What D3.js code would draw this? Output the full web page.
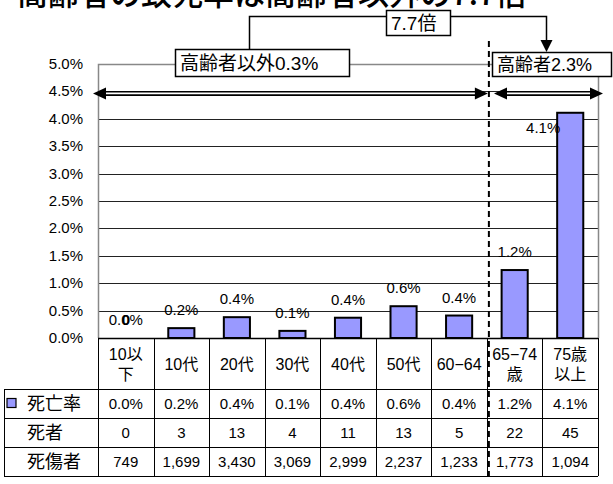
<!DOCTYPE html>
<html>
<head>
<meta charset="utf-8">
<script src="https://cdn.jsdelivr.net/npm/d3@7"></script>
<style>
  body { margin: 0; background: #fff; }
  svg text { font-family: "Liberation Sans", "Noto Sans CJK JP", sans-serif; fill: #000; }
</style>
</head>
<body>
<div id="container"></div>
<script>
/* DATA */
const categories = [["10以", "下"], ["10代"], ["20代"], ["30代"], ["40代"], ["50代"], ["60−64"], ["65−74", "歳"], ["75歳", "以上"]]
const rates = [0.0, 0.18, 0.38, 0.13, 0.37, 0.58, 0.41, 1.24, 4.11]   // %
const deaths = [0, 3, 13, 4, 11, 13, 5, 22, 45]
const casualties = [749, 1699, 3430, 3069, 2999, 2237, 1233, 1773, 1094]
const rowLabels = ["死亡率", "死者", "死傷者"]
const yTicks = [0, 0.5, 1, 1.5, 2, 2.5, 3, 3.5, 4, 4.5, 5]
const title = "高齢者の致死率は高齢者以外の7.7倍"
const groupLabels = ["高齢者以外0.3%", "高齢者2.3%"]
const ratioLabel = "7.7倍"

/* CONSTANTS */
const width = 613, height = 484
const plotLeft = 98, plotRight = 598, plotTop = 64, plotBottom = 338
const rowTops = [389, 418, 447, 476]
const tableLeft = 4

const svg = d3.select("#container").append("svg")
  .attr("width", width)
  .attr("height", height)

const keys = categories.map(d => d.join(""))

const x = d3.scaleBand()
  .domain(keys)
  .range([plotLeft, plotRight])

const y = d3.scaleLinear()
  .domain([0, 5])
  .range([plotBottom, plotTop])

const fmt = d => d3.format(".1f")(d) + "%"

// title (cut off at top)
svg.append("text")
  .text(title)
  .attr("x", 17)
  .attr("y", 5)
  .attr("font-size", 31)
  .attr("font-weight", 500)
  .style("font-family", "'Noto Sans CJK JP', sans-serif")

// gridlines
svg.selectAll(".grid")
  .data(yTicks.filter(d => d > 0 && d < 5))
  .join("line")
  .attr("x1", plotLeft).attr("x2", plotRight)
  .attr("y1", d => Math.round(y(d)) + 0.5)
  .attr("y2", d => Math.round(y(d)) + 0.5)
  .attr("stroke", "#222")

// plot border (gray)
svg.append("path")
  .attr("d", `M${plotLeft + 0.5},${plotBottom} V${plotTop + 0.5} H${plotRight + 0.5} V${plotBottom}`)
  .attr("fill", "none")
  .attr("stroke", "#888")
  .attr("stroke-width", 1.5)

// y labels
svg.selectAll(".ylab")
  .data(yTicks)
  .join("text")
  .attr("x", 83)
  .attr("y", d => y(d) + 5)
  .attr("text-anchor", "end")
  .attr("font-size", 15)
  .text(fmt)

// bars
const bw = x.bandwidth() * 0.47
svg.selectAll(".bar")
  .data(rates)
  .join("rect")
  .attr("class", "bar")
  .attr("x", (d, i) => x(keys[i]) + (x.bandwidth() - bw) / 2)
  .attr("y", d => y(d))
  .attr("width", bw)
  .attr("height", d => y(0) - y(d))
  .attr("fill", "#9999ff")
  .attr("stroke", "#000")
  .attr("stroke-width", 2)

// bar labels (the tallest one is pushed inside, left of its bar)
const inside = d => y(d) - 24 < 100
svg.selectAll(".blab")
  .data(rates)
  .join("text")
  .attr("x", (d, i) => x(keys[i]) + x.bandwidth() / 2 - (inside(d) ? 27 : 0))
  .attr("y", d => inside(d) ? y(d) + 20 : y(d) - 13)
  .attr("text-anchor", "middle")
  .attr("font-size", 15)
  .text(fmt)

// doubled "0" of the first label
svg.append("text")
  .attr("x", x(keys[0]) + x.bandwidth() / 2 - 4)
  .attr("y", y(rates[0]) - 13)
  .attr("font-size", 15)
  .attr("font-weight", "bold")
  .text("0")

// table
const tbl = svg.append("g").attr("stroke", "#000").attr("stroke-width", 1)
tbl.append("line").attr("x1", plotLeft).attr("x2", plotRight).attr("y1", plotBottom + 0.5).attr("y2", plotBottom + 0.5).attr("stroke-width", 1.5)
rowTops.forEach(r => {
  tbl.append("line").attr("x1", tableLeft).attr("x2", plotRight).attr("y1", r + 0.5).attr("y2", r + 0.5)
})
keys.concat(["end"]).forEach((k, i) => {
  const xx = i < keys.length ? x(k) : plotRight
  tbl.append("line").attr("x1", Math.round(xx) + 0.5).attr("x2", Math.round(xx) + 0.5)
    .attr("y1", plotBottom).attr("y2", rowTops[3])
})
tbl.append("line").attr("x1", tableLeft + 0.5).attr("x2", tableLeft + 0.5)
  .attr("y1", rowTops[0]).attr("y2", rowTops[3])

// category labels
categories.forEach((lines, i) => {
  const cx = x(keys[i]) + x.bandwidth() / 2
  const t = svg.append("text").attr("text-anchor", "middle").attr("font-size", 16)
  lines.forEach((ln, j) => {
    const yy = lines.length === 1 ? 370 : 360 + j * 20
    t.append("tspan").attr("x", cx).attr("y", yy).text(ln)
  })
})

// row labels
rowLabels.forEach((lab, r) => {
  svg.append("text")
    .attr("x", 27)
    .attr("y", (rowTops[r] + rowTops[r + 1]) / 2 + 6)
    .attr("font-size", 18)
    .text(lab)
})
svg.append("rect")
  .attr("x", 7).attr("y", (rowTops[0] + rowTops[1]) / 2 - 5)
  .attr("width", 9).attr("height", 9)
  .attr("fill", "#9999ff").attr("stroke", "#000").attr("stroke-width", 1.2)

const rows = [rates.map(fmt), deaths.map(d => d3.format(",")(d)), casualties.map(d => d3.format(",")(d))]
rows.forEach((vals, r) => {
  svg.selectAll(".row" + r)
    .data(vals)
    .join("text")
    .attr("x", (d, i) => x(keys[i]) + x.bandwidth() / 2)
    .attr("y", (rowTops[r] + rowTops[r + 1]) / 2 + 5)
    .attr("text-anchor", "middle")
    .attr("font-size", 15)
    .text(d => d)
})

// dashed separator
const sepX = x(keys[7]) + 2
svg.append("line")
  .attr("x1", sepX).attr("x2", sepX)
  .attr("y1", 41).attr("y2", rowTops[3])
  .attr("stroke", "#000")
  .attr("stroke-width", 2)
  .attr("stroke-dasharray", "6,4")

// double arrows
function doubleArrow(x1, x2, yy) {
  const g = svg.append("g")
  g.append("line").attr("x1", x1 + 8).attr("x2", x2 - 8).attr("y1", yy).attr("y2", yy)
    .attr("stroke", "#000").attr("stroke-width", 5)
  g.append("line").attr("x1", x1 + 8).attr("x2", x2 - 8).attr("y1", yy).attr("y2", yy)
    .attr("stroke", "#fff").attr("stroke-width", 1.6)
  g.append("path").attr("d", `M${x1},${yy} L${x1 + 13},${yy - 6} L${x1 + 13},${yy + 6} Z`).attr("fill", "#000")
  g.append("path").attr("d", `M${x2},${yy} L${x2 - 13},${yy - 6} L${x2 - 13},${yy + 6} Z`).attr("fill", "#000")
}
const arrowY = y(4.5) + 2
doubleArrow(93, sepX - 1, arrowY)
doubleArrow(494, 603, arrowY)

// connector to ratio box
svg.append("path")
  .attr("d", "M249.5,49 V16.5 H546.5 V42")
  .attr("fill", "none")
  .attr("stroke", "#000")
  .attr("stroke-width", 1.5)
svg.append("path")
  .attr("d", "M546.5,52 L540.5,40 L552.5,40 Z")
  .attr("fill", "#000")

// label boxes
function labelBox(txt, x0, y0, w, h, fs) {
  svg.append("rect")
    .attr("x", x0 + 0.5).attr("y", y0 + 0.5)
    .attr("width", w).attr("height", h)
    .attr("fill", "#fff").attr("stroke", "#000").attr("stroke-width", 1.5)
  svg.append("text")
    .attr("x", x0 + 5).attr("y", y0 + h / 2 + 7)
    .attr("font-size", fs)
    .text(txt)
}
labelBox(groupLabels[0], 175, 49, 174, 27, 19)
labelBox(groupLabels[1], 492, 52, 119, 24, 18)
labelBox(ratioLabel, 386, 10, 64, 25, 19)
</script>
</body>
</html>
